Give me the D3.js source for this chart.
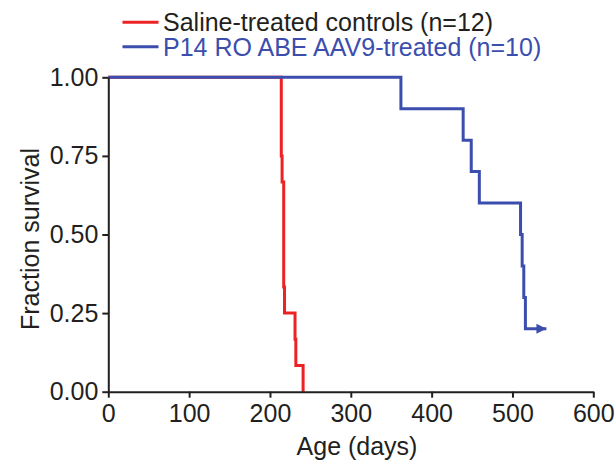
<!DOCTYPE html>
<html>
<head>
<meta charset="utf-8">
<script src="https://cdn.jsdelivr.net/npm/d3@7"></script>
<style>
  body { margin: 0; background: #fff; }
  svg { display: block; }
</style>
</head>
<body>
<div id="chart"></div>
<script>
// Kaplan-Meier steps
const salineTimes = [0, 214, 215, 217, 218, 231, 232, 241];
const salineSurv = [1.0, 0.750, 0.667, 0.333, 0.250, 0.167, 0.083, 0.0];

const treatedTimes = [0, 362, 439, 449, 459, 510, 512, 514, 516, 542];
const treatedSurv = [1.0, 0.9, 0.8, 0.7, 0.6, 0.5, 0.4, 0.3, 0.2, 0.2];

const xTicks = [0, 100, 200, 300, 400, 500, 600];
const yTicks = [0, 0.25, 0.5, 0.75, 1.0];

const seriesNames = ['Saline-treated controls (n=12)', 'P14 RO ABE AAV9-treated (n=10)'];

const width = 616, height = 462;
const red = '#ed2224', blue = '#3b4ead';
const axisColor = '#231f20';
const font = '"Liberation Sans", Arial, sans-serif';
const fs = 25;

const svg = d3.select('#chart').append('svg')
  .attr('width', width)
  .attr('height', height)
  .attr('font-family', font);

const x = d3.scaleLinear().domain([0, 600]).range([108.3, 593.3]);
const y = d3.scaleLinear().domain([0, 1]).range([391.7, 77.3]);

// arrow for censored end
svg.append('defs').append('marker')
  .attr('id', 'arrow')
  .attr('viewBox', '0 0 10 10')
  .attr('refX', 10)
  .attr('refY', 5)
  .attr('markerUnits', 'userSpaceOnUse')
  .attr('markerWidth', 10)
  .attr('markerHeight', 11)
  .attr('orient', 'auto')
  .append('path')
  .attr('d', 'M0,0 L10,5 L0,10 Z')
  .attr('fill', blue);

const line = d3.line()
  .x(d => x(d[0]))
  .y(d => y(d[1]))
  .curve(d3.curveStepAfter);

svg.append('path')
  .datum(d3.zip(salineTimes, salineSurv))
  .attr('d', line)
  .attr('fill', 'none')
  .attr('stroke', red)
  .attr('stroke-width', 3);

svg.append('path')
  .datum(d3.zip(treatedTimes, treatedSurv))
  .attr('d', line)
  .attr('fill', 'none')
  .attr('stroke', blue)
  .attr('stroke-width', 3)
  .attr('marker-end', 'url(#arrow)');

// axes
const xAxis = svg.append('g')
  .attr('transform', `translate(0,${y(0)})`)
  .call(d3.axisBottom(x).tickValues(xTicks).tickFormat(d3.format('d')).tickSize(6).tickPadding(7).tickSizeOuter(0));

const yAxis = svg.append('g')
  .attr('transform', `translate(${x(0)},0)`)
  .call(d3.axisLeft(y).tickValues(yTicks).tickFormat(d3.format('.2f')).tickSize(6).tickPadding(4).tickSizeOuter(0));

[xAxis, yAxis].forEach(a => {
  a.select('.domain').attr('stroke', axisColor).attr('stroke-width', 2);
  a.selectAll('.tick line').attr('stroke', axisColor).attr('stroke-width', 2);
  a.selectAll('.tick text')
    .attr('fill', axisColor)
    .attr('font-size', fs)
    .attr('font-family', font);
});

// axis titles
svg.append('text')
  .attr('x', 357)
  .attr('y', 455)
  .attr('text-anchor', 'middle')
  .attr('font-size', fs)
  .attr('fill', axisColor)
  .text('Age (days)');

svg.append('text')
  .attr('transform', 'rotate(-90)')
  .attr('x', -239)
  .attr('y', 39)
  .attr('text-anchor', 'middle')
  .attr('font-size', fs)
  .attr('fill', axisColor)
  .text('Fraction survival');

// legend
const legendColors = [red, blue];
const legendText = [axisColor, blue];
seriesNames.forEach((name, i) => {
  const ly = 22.3 + i * 24.5;
  svg.append('line')
    .attr('x1', 122.5).attr('x2', 158.5)
    .attr('y1', ly).attr('y2', ly)
    .attr('stroke', legendColors[i])
    .attr('stroke-width', 3);
  svg.append('text')
    .attr('x', 163)
    .attr('y', ly + 8.8)
    .attr('font-size', fs)
    .attr('fill', legendText[i])
    .text(name);
});
</script>
</body>
</html>
